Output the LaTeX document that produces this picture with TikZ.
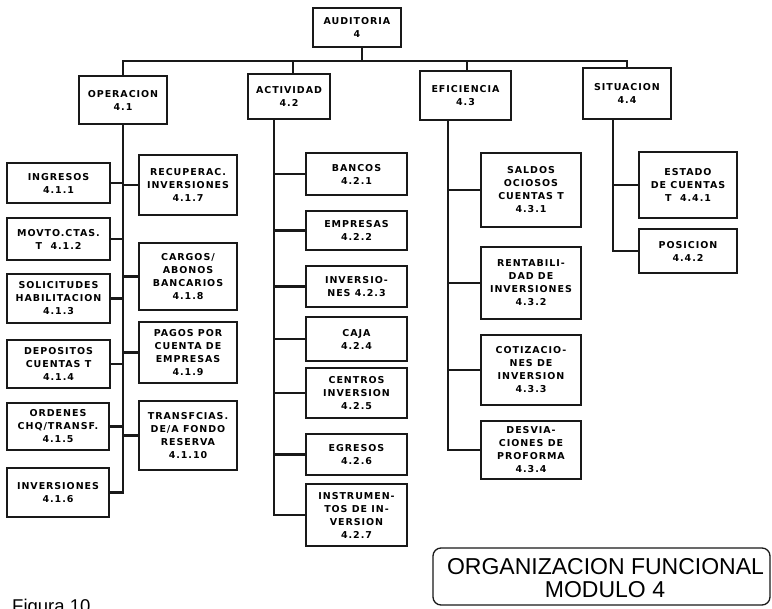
\documentclass[tikz,border=0pt]{standalone}
\usepackage{fontspec}
\setmainfont{Liberation Sans}
\newfontfamily\boxfont[LetterSpace=10]{DejaVu Sans}
\begin{document}
\begin{tikzpicture}[x=1pt,y=-1pt,
  bx/.style={draw=black!90, line width=1.3pt, align=center, inner sep=0pt,
    font=\boxfont\bfseries\fontsize{9.5}{13}\selectfont},
  conn/.style={draw=black!90, line width=2.8pt, line cap=rect},
  title/.style={font=\fontsize{23}{23}\selectfont, anchor=base, inner sep=0pt}]
\useasboundingbox (0,0) rectangle (772,609);
\fill[white] (0,0) rectangle (772,609);

% top level
\node[bx, minimum width=88pt, minimum height=39pt] (aud) at (357,27.5) {AUDITORIA\\4};
\node[bx, minimum width=88pt, minimum height=48pt] (op)  at (123,100)  {OPERACION\\4.1};
\node[bx, minimum width=82pt, minimum height=45pt] (act) at (289,96.5) {ACTIVIDAD\\4.2};
\node[bx, minimum width=91pt, minimum height=49pt] (efi) at (465.5,95.5) {EFICIENCIA\\4.3};
\node[bx, minimum width=88pt, minimum height=51pt] (sit) at (627,93.5) {SITUACION\\4.4};

% operacion, left column
\node[bx, minimum width=103pt, minimum height=40pt] (o1) at (58.5,183)   {INGRESOS\\4.1.1};
\node[bx, minimum width=103pt, minimum height=42pt] (o2) at (58.5,239)   {MOVTO.CTAS.\\T\ \ 4.1.2};
\node[bx, minimum width=103pt, minimum height=49pt] (o3) at (58.5,298.5) {SOLICITUDES\\HABILITACION\\4.1.3};
\node[bx, minimum width=103pt, minimum height=48pt] (o4) at (58.5,364)   {DEPOSITOS\\CUENTAS T\\4.1.4};
\node[bx, minimum width=102pt, minimum height=47pt] (o5) at (58,426.5)   {ORDENES\\CHQ/TRANSF.\\4.1.5};
\node[bx, minimum width=102pt, minimum height=49pt] (o6) at (58,492.5)   {INVERSIONES\\4.1.6};
% operacion, right column
\node[bx, minimum width=98pt, minimum height=60pt] (o7)  at (188,185)   {RECUPERAC.\\INVERSIONES\\4.1.7};
\node[bx, minimum width=98pt, minimum height=67pt] (o8)  at (188,276.5) {CARGOS/\\ABONOS\\BANCARIOS\\4.1.8};
\node[bx, minimum width=98pt, minimum height=61pt] (o9)  at (188,352.5) {PAGOS POR\\CUENTA DE\\EMPRESAS\\4.1.9};
\node[bx, minimum width=98pt, minimum height=69pt] (o10) at (188,435.5) {TRANSFCIAS.\\DE/A FONDO\\RESERVA\\4.1.10};

% actividad
\node[bx, minimum width=101pt, minimum height=42pt] (a1) at (356.5,174)   {BANCOS\\4.2.1};
\node[bx, minimum width=101pt, minimum height=39pt] (a2) at (356.5,230.5) {EMPRESAS\\4.2.2};
\node[bx, minimum width=101pt, minimum height=41pt] (a3) at (356.5,286.5) {INVERSIO-\\NES 4.2.3};
\node[bx, minimum width=101pt, minimum height=44pt] (a4) at (356.5,339)   {CAJA\\4.2.4};
\node[bx, minimum width=101pt, minimum height=50pt] (a5) at (356.5,393)   {CENTROS\\INVERSION\\4.2.5};
\node[bx, minimum width=101pt, minimum height=41pt] (a6) at (356.5,454.5) {EGRESOS\\4.2.6};
\node[bx, minimum width=101pt, minimum height=62pt] (a7) at (356.5,515)   {INSTRUMEN-\\TOS DE IN-\\VERSION\\4.2.7};

% eficiencia
\node[bx, minimum width=100pt, minimum height=74pt] (e1) at (531,190) {SALDOS\\OCIOSOS\\CUENTAS T\\4.3.1};
\node[bx, minimum width=100pt, minimum height=72pt] (e2) at (531,283) {RENTABILI-\\DAD DE\\INVERSIONES\\4.3.2};
\node[bx, minimum width=100pt, minimum height=70pt] (e3) at (531,370) {COTIZACIO-\\NES DE\\INVERSION\\4.3.3};
\node[bx, minimum width=100pt, minimum height=58pt] (e4) at (531,450) {DESVIA-\\CIONES DE\\PROFORMA\\4.3.4};

% situacion
\node[bx, minimum width=98pt, minimum height=66pt] (s1) at (688,185) {ESTADO\\DE CUENTAS\\T\ \ 4.4.1};
\node[bx, minimum width=98pt, minimum height=44pt] (s2) at (688,251) {POSICION\\4.4.2};

% main bar
\coordinate (bar) at (0,61);
\draw[conn] ([xshift=5pt]aud.south) -- ([xshift=5pt]aud.south |- bar);
\draw[conn] (op.north) -- (op.north |- bar) -- (sit.north |- bar) -- (sit.north);
\draw[conn] ([xshift=4pt]act.north) -- ([xshift=4pt]act.north |- bar);
\draw[conn] ([xshift=1.5pt]efi.north) -- ([xshift=1.5pt]efi.north |- bar);

% operacion trunk
\draw[conn] (op.south) |- (o6.east);
\foreach \n in {o1,o2,o3,o4,o5} \draw[conn] (\n.east) -- (\n.east -| op.south);
\foreach \n in {o7,o8,o9,o10} \draw[conn] (\n.west) -- (\n.west -| op.south);

% actividad trunk
\coordinate (actT) at ([xshift=-15pt]act.south);
\draw[conn] (actT) |- (a7.west);
\foreach \n in {a1,a2,a3,a4,a5,a6} \draw[conn] (\n.west) -- (\n.west -| actT);

% eficiencia trunk
\coordinate (efiT) at ([xshift=-17.5pt]efi.south);
\draw[conn] (efiT) |- (e4.west);
\foreach \n in {e1,e2,e3} \draw[conn] (\n.west) -- (\n.west -| efiT);

% situacion trunk
\coordinate (sitT) at ([xshift=-14pt]sit.south);
\draw[conn] (sitT) |- (s2.west);
\draw[conn] (s1.west) -- (s1.west -| sitT);

% title block
\node[draw=black!90, line width=1.3pt, rounded corners=8pt, minimum width=337pt,
  minimum height=57pt, inner sep=0pt] (title) at (601.5,576.5) {};
\node[title] (t1) at (605.5,575) {ORGANIZACION FUNCIONAL};
\node[title] (t2) at (605,598) {MODULO 4};

\node[font=\fontsize{18.5}{20}\selectfont, anchor=base west, inner sep=0pt] (fig) at (12,613) {Figura 10};
\end{tikzpicture}
\end{document}
